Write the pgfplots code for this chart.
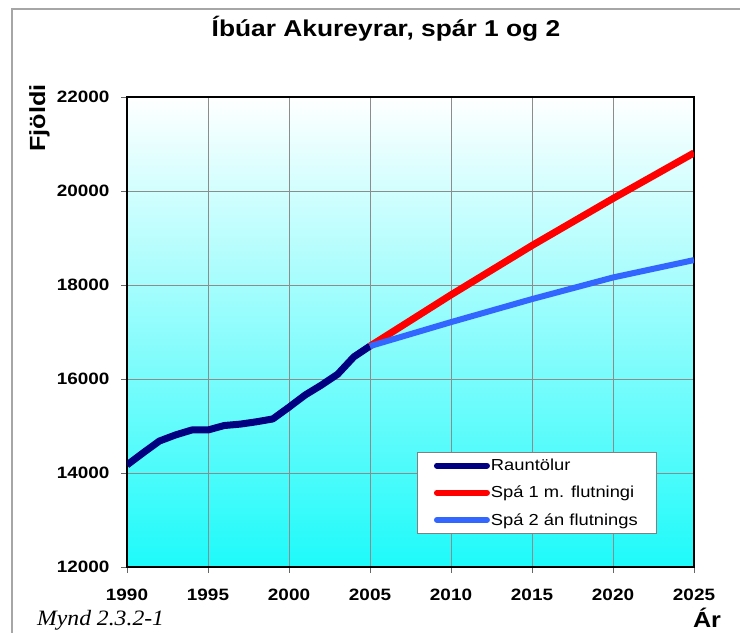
\documentclass[border=0pt]{standalone}
\usepackage{pgfplots}
\pgfplotsset{compat=1.18}
\usepackage{fontspec}
\setmainfont[FakeStretch=1.15]{Liberation Sans}
\newfontfamily\seriffont[FakeStretch=1.08]{Liberation Serif}
\definecolor{navyline}{RGB}{0,0,128}
\definecolor{redline}{RGB}{255,0,0}
\definecolor{blueline}{RGB}{51,102,255}
\definecolor{cyanbot}{RGB}{30,250,250}
\definecolor{gridgray}{RGB}{140,140,140}
\begin{document}
\begin{tikzpicture}[x=1bp,y=1bp]
\useasboundingbox (0,0) rectangle (740,633);
\fill[white] (0,0) rectangle (740,633);
\draw[gray!70, line width=2bp] (12,-5) -- (12,624) -- (745,624);
\node[font=\bfseries\fontsize{23}{26}\selectfont, anchor=base] at (386,596) {Íbúar Akureyrar, spár 1 og 2};
\node[font=\bfseries\fontsize{22}{26}\selectfont, rotate=90, anchor=base west] at (45,478) {Fjöldi};
\node[font=\bfseries\fontsize{22}{26}\selectfont, anchor=base] at (707,5) {Ár};
\node[font=\seriffont\itshape\fontsize{22}{26}\selectfont, anchor=base west, inner sep=0pt] at (37,7) {Mynd 2.3.2-1};
\begin{axis}[
  at={(127bp,66bp)}, anchor=south west,
  scale only axis, width=567bp, height=470bp,
  xmin=1990, xmax=2025, ymin=12000, ymax=22000,
  xtick={1990,1995,...,2025}, ytick={12000,14000,...,22000},
  scaled y ticks=false, scaled x ticks=false,
  grid=major, grid style={gridgray, line width=0.6bp},
  axis line style={black, line width=2.5bp},
  tick style={black!60, line width=0.8bp},
  tick align=outside, major tick length=6bp,
  xtick pos=bottom, ytick pos=left,
  /pgf/number format/assume math mode=true,
  /pgf/number format/set thousands separator={},
  /pgf/number format/1000 sep={},
  ticklabel style={font=\bfseries\fontsize{16.5}{19}\selectfont},
  xticklabel style={anchor=north, yshift=-13bp},
  yticklabel style={anchor=east, xshift=-8bp},
  axis background/.style={top color=white, bottom color=cyanbot},
  legend style={at={(0.511,0.245)}, anchor=north west, draw=gray, fill=white,
    font=\fontsize{16}{18}\selectfont, row sep=10bp, inner xsep=17bp, inner ysep=5bp,
    cells={anchor=west}, nodes={inner xsep=1bp}},
  legend image code/.code={\draw[#1, line width=6bp, line cap=round] (0bp,0bp) -- (50bp,0bp);},
  clip=true,
]
\addplot[navyline, line width=7bp, line join=round] coordinates {
(1990,14170) (1991,14430) (1992,14680) (1993,14810) (1994,14915) (1995,14915)
(1996,15010) (1997,15040) (1998,15090) (1999,15150) (2000,15400) (2001,15660)
(2002,15870) (2003,16100) (2004,16470) (2005,16700)};
\addlegendentry{Rauntölur}
\addplot[redline, line width=7bp, line join=round] coordinates {
(2005,16700) (2010,17790) (2015,18840) (2020,19840) (2025,20810)};
\addlegendentry{Spá 1 m. flutningi}
\addplot[blueline, line width=6bp, line join=round] coordinates {
(2005,16700) (2010,17210) (2015,17700) (2020,18160) (2025,18530)};
\addlegendentry{Spá 2 án flutnings}
\end{axis}
\end{tikzpicture}
\end{document}
